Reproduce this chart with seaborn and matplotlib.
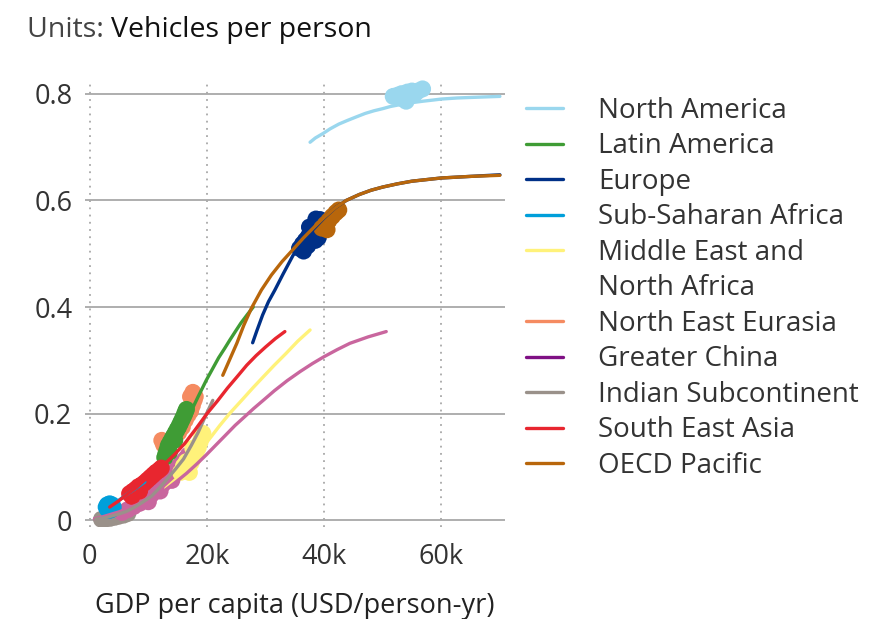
import numpy as np
import pandas as pd
import matplotlib
matplotlib.use("Agg")
import matplotlib.pyplot as plt
import seaborn as sns
from matplotlib.lines import Line2D

# ---- data (GDP in k USD, vehicles per person) ----
regions = ["North America", "Latin America", "Europe", "Sub-Saharan Africa",
           "Middle East and\nNorth Africa", "North East Eurasia", "Greater China",
           "Indian Subcontinent", "South East Asia", "OECD Pacific"]

legend_colors = ["#9ad7ee", "#3f9c35", "#003087", "#009fda", "#fff27a",
                 "#f58b61", "#7f1084", "#9a918a", "#e8262f", "#b8660b"]
# Greater China is drawn in a lighter pink in the plot area
plot_colors = dict(zip(regions, legend_colors))
plot_colors["Greater China"] = "#c9669e"

# fitted curves
na_x = [37.6, 38.5, 39.9, 41.0, 42.5, 44.0, 45.6, 47.0, 48.5, 50.0, 51.3, 52.7,
        54.0, 55.5, 56.9, 58.5, 60.0, 62.7, 65.0, 67.5, 70.0]
na_y = [0.709, 0.717, 0.726, 0.734, 0.743, 0.750, 0.757, 0.763, 0.768, 0.772, 0.776, 0.779,
        0.782, 0.784, 0.786, 0.788, 0.790, 0.792, 0.793, 0.794, 0.795]
la_x = [13.0, 14.0, 15.0, 16.0, 17.1, 18.5, 19.9, 21.0, 22.0, 23.0, 23.9, 24.9, 25.8, 26.9, 27.9]
la_y = [0.125, 0.142, 0.160, 0.179, 0.200, 0.232, 0.263, 0.285, 0.305, 0.322, 0.338, 0.355,
        0.370, 0.386, 0.400]
eu_x = [27.8, 28.5, 29.5, 30.5, 31.6, 33.0, 34.7, 36.3, 38.1, 40.0, 42.0, 43.8, 46.0,
        48.0, 50.0, 52.5, 55.0, 57.5, 60.0, 65.0, 70.0]
eu_y = [0.333, 0.355, 0.385, 0.410, 0.432, 0.462, 0.497, 0.522, 0.545, 0.567, 0.587, 0.600,
        0.611, 0.619, 0.625, 0.631, 0.636, 0.639, 0.642, 0.645, 0.648]
ssa_x = [3.7, 5.0, 6.5, 8.0, 9.4]
ssa_y = [0.028, 0.038, 0.050, 0.061, 0.072]
me_x = [13.0, 14.0, 15.0, 16.0, 17.0, 18.2, 19.5, 20.8, 22.2, 24.0, 26.0, 27.8, 29.6,
        31.5, 33.5, 35.5, 37.6]
me_y = [0.060, 0.070, 0.080, 0.090, 0.100, 0.118, 0.140, 0.158, 0.178, 0.202, 0.226, 0.248,
        0.269, 0.291, 0.313, 0.336, 0.357]
gc_x = [0.8, 2.0, 3.5, 5.0, 6.7, 8.2, 9.8, 11.3, 12.8, 14.6, 16.5, 18.2, 19.9, 21.5, 23.2,
        24.8, 26.5, 28.0, 29.6, 31.5, 33.7, 35.9, 38.0, 40.0, 42.2, 44.4, 47.5, 50.6]
gc_y = [0.003, 0.006, 0.011, 0.016, 0.023, 0.030, 0.038, 0.047, 0.056, 0.071, 0.088, 0.105,
        0.123, 0.141, 0.160, 0.178, 0.195, 0.210, 0.225, 0.243, 0.262, 0.279, 0.294, 0.307,
        0.320, 0.332, 0.344, 0.354]
ind_x = [1.0, 2.0, 3.0, 4.0, 5.0, 6.3, 7.7, 9.0, 10.5, 12.0, 13.4, 14.7, 16.0, 17.3,
         18.5, 19.8, 21.0]
ind_y = [0.002, 0.004, 0.006, 0.009, 0.012, 0.017, 0.025, 0.034, 0.045, 0.062, 0.080, 0.097,
         0.115, 0.140, 0.165, 0.197, 0.225]
sea_x = [3.4, 5.0, 6.5, 8.0, 9.6, 11.2, 12.8, 14.5, 16.2, 18.0, 20.0, 21.8, 23.5, 25.2,
         26.8, 28.4, 30.0, 31.7, 33.3]
sea_y = [0.025, 0.037, 0.050, 0.062, 0.078, 0.092, 0.106, 0.124, 0.144, 0.170, 0.200, 0.224,
         0.248, 0.270, 0.291, 0.309, 0.325, 0.341, 0.354]
op_x = [22.7, 23.9, 25.1, 26.3, 27.6, 29.3, 31.0, 32.8, 34.7, 36.5, 38.3, 40.0, 42.0, 43.8,
        46.0, 48.0, 50.0, 52.5, 55.0, 57.5, 60.0, 65.0, 70.0]
op_y = [0.272, 0.302, 0.332, 0.366, 0.398, 0.432, 0.460, 0.485, 0.508, 0.530, 0.550, 0.568,
        0.587, 0.600, 0.611, 0.619, 0.625, 0.631, 0.636, 0.639, 0.642, 0.645, 0.647]

# historical observations
na_hx = [51.8, 52.5, 53.2, 53.5, 54.0, 54.2, 54.5, 55.0, 55.5, 56.0, 56.8]
na_hy = [0.795, 0.797, 0.800, 0.790, 0.786, 0.803, 0.795, 0.805, 0.800, 0.805, 0.809]
la_hx = [12.8, 13.0, 13.2, 13.4, 13.6, 13.7, 14.0, 14.3, 14.5, 14.6, 14.9, 15.2, 15.5,
         15.8, 16.1, 16.3, 16.5]
la_hy = [0.118, 0.125, 0.132, 0.140, 0.128, 0.146, 0.152, 0.158, 0.150, 0.164, 0.170, 0.176,
         0.183, 0.190, 0.197, 0.203, 0.208]
eu_hx = [35.8, 36.3, 36.5, 36.8, 37.2, 37.3, 37.5, 37.8, 38.3, 38.5, 38.6, 38.8, 39.0, 39.3]
eu_hy = [0.510, 0.518, 0.505, 0.525, 0.515, 0.532, 0.550, 0.540, 0.548, 0.525, 0.565, 0.556,
         0.530, 0.564]
ssa_hx = [2.8, 4.0, 3.4, 3.4, 3.0, 3.8, 3.0, 3.8]
ssa_hy = [0.025, 0.025, 0.019, 0.031, 0.021, 0.029, 0.029, 0.021]
me_hx = [15.5, 16.2, 16.5, 16.8, 17.3, 17.6, 17.7, 18.1, 18.5, 18.8, 19.1, 19.3, 16.0, 17.0]
me_hy = [0.090, 0.095, 0.110, 0.100, 0.108, 0.135, 0.117, 0.126, 0.136, 0.146, 0.156, 0.163,
         0.102, 0.090]
nee_hx = [12.3, 12.6, 15.2, 15.8, 16.3, 16.8, 17.2, 17.2, 17.5, 17.6, 17.8, 18.0]
nee_hy = [0.150, 0.142, 0.165, 0.175, 0.188, 0.198, 0.205, 0.232, 0.215, 0.240, 0.225, 0.232]
gc_hx = [5.5, 6.5, 7.5, 8.5, 9.5, 10.0, 10.5, 11.5, 12.0, 12.5, 13.5, 14.0, 14.3, 15.0,
         15.7, 16.3, 16.8]
gc_hy = [0.015, 0.020, 0.026, 0.032, 0.040, 0.035, 0.048, 0.058, 0.055, 0.068, 0.080, 0.075,
         0.090, 0.100, 0.108, 0.115, 0.122]
ind_hx = [2.0, 2.8, 3.5, 4.3, 5.0, 5.8, 6.5]
ind_hy = [0.002, 0.003, 0.004, 0.006, 0.008, 0.010, 0.013]
sea_hx = [6.8, 7.2, 7.3, 7.8, 8.3, 8.5, 8.8, 9.3, 9.8, 10.3, 10.8, 11.3, 11.8, 12.2]
sea_hy = [0.050, 0.045, 0.054, 0.058, 0.063, 0.055, 0.066, 0.070, 0.075, 0.080, 0.085, 0.090,
          0.094, 0.098]
op_hx = [39.6, 40.2, 40.5, 40.8, 41.4, 42.0, 42.5]
op_hy = [0.548, 0.555, 0.545, 0.562, 0.570, 0.577, 0.582]

curve_data = {
    "North America": (na_x, na_y), "Latin America": (la_x, la_y),
    "Europe": (eu_x, eu_y), "Sub-Saharan Africa": (ssa_x, ssa_y),
    "Middle East and\nNorth Africa": (me_x, me_y), "Greater China": (gc_x, gc_y),
    "Indian Subcontinent": (ind_x, ind_y), "South East Asia": (sea_x, sea_y),
    "OECD Pacific": (op_x, op_y),
}
# drawing order for the historical blobs
hist_data = {
    "Indian Subcontinent": (ind_hx, ind_hy), "Greater China": (gc_hx, gc_hy),
    "North East Eurasia": (nee_hx, nee_hy), "Latin America": (la_hx, la_hy),
    "South East Asia": (sea_hx, sea_hy), "Middle East and\nNorth Africa": (me_hx, me_hy),
    "Sub-Saharan Africa": (ssa_hx, ssa_hy), "Europe": (eu_hx, eu_hy),
    "OECD Pacific": (op_hx, op_hy), "North America": (na_hx, na_hy),
}


def to_frame(d):
    rows = []
    for reg, (xs, ys) in d.items():
        for x, y in zip(xs, ys):
            rows.append({"region": reg, "gdp": x * 1000, "vpp": y})
    return pd.DataFrame(rows)


curves = to_frame(curve_data)
hist = to_frame(hist_data)

sns.set_style("white")
plt.rcParams["font.family"] = ["Open Sans", "DejaVu Sans"]
text_col = "#333333"
FS = 19.5

fig = plt.figure(figsize=(8.74, 6.19), dpi=100)
ax = fig.add_axes([0.097, 0.149, 0.481, 0.722])

sns.scatterplot(data=hist, x="gdp", y="vpp", hue="region", palette=plot_colors,
                hue_order=list(hist_data.keys()), s=150, linewidth=0,
                alpha=1, legend=False, ax=ax, zorder=2)
sns.lineplot(data=curves, x="gdp", y="vpp", hue="region", palette=plot_colors,
             units="region", estimator=None, sort=False, lw=2.4, legend=False,
             ax=ax, zorder=3)

ax.set_xlim(-850, 70900)
ax.set_ylim(-0.012, 0.826)
ax.set_xticks([0, 20000, 40000, 60000])
ax.set_xticklabels(["0", "20k", "40k", "60k"])
ax.set_yticks([0, 0.2, 0.4, 0.6, 0.8])
ax.set_yticklabels(["0", "0.2", "0.4", "0.6", "0.8"])
ax.tick_params(length=0, labelsize=FS, colors=text_col)
ax.tick_params(axis="y", pad=9)
ax.tick_params(axis="x", pad=12)
for s in ax.spines.values():
    s.set_visible(False)
ax.grid(False)
for yv in [0, 0.2, 0.4, 0.6, 0.8]:
    ax.axhline(yv, color="#a8a8a8", lw=1.3, zorder=0)
for xv in [0, 20000, 40000, 60000]:
    ax.axvline(xv, color="#a8a8a8", lw=1.3, ls=(0, (1, 3)), zorder=0)

ax.set_xlabel("GDP per capita (USD/person-yr)", fontsize=FS, color="#222222", labelpad=15)
ax.set_ylabel("")

# title in two weights
TS = 20.5
t1 = fig.text(27 / 874, 1 - 30 / 619, "Units: ", fontsize=TS, color="#444444",
              va="center", ha="left")
fig.canvas.draw()
bb = t1.get_window_extent()
fig.text(bb.x1 / fig.bbox.width, 1 - 30 / 619, "Vehicles per person", fontsize=TS,
         color="#111111", fontweight="medium", va="center", ha="left")

# legend: the two-line label gets its handle on the first line only
leg_labels = []
handles = []
for reg, c in zip(regions, legend_colors):
    for i, part in enumerate(reg.split("\n")):
        leg_labels.append(part)
        handles.append(Line2D([0], [0], color=c if i == 0 else "none", lw=2.4))
leg = fig.legend(handles, leg_labels, loc="upper left", bbox_to_anchor=(0.573, 0.884),
                 frameon=False, fontsize=20, handlelength=1.35, handletextpad=1.25,
                 labelspacing=0.27, labelcolor=text_col)

fig.savefig("out.png", dpi=100)
